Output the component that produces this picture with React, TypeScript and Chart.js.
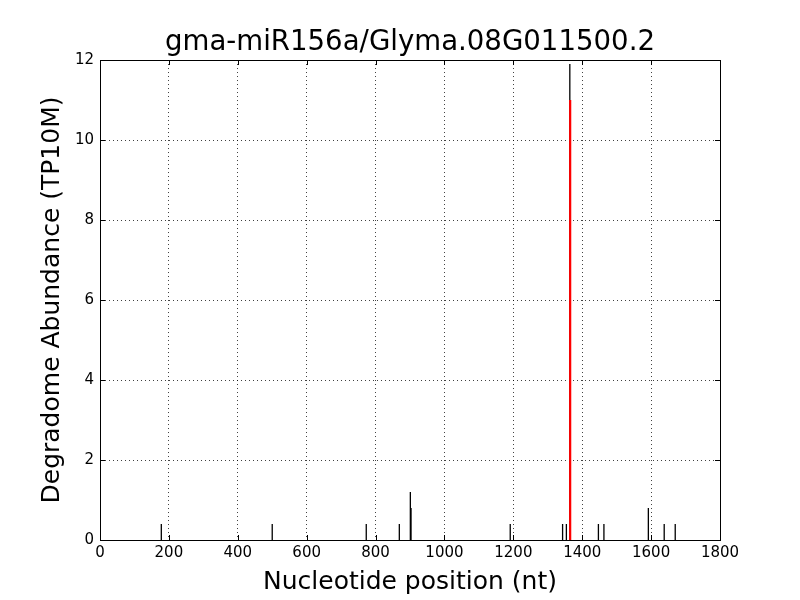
import React, { useEffect, useRef } from "react";
import { Chart, registerables } from "chart.js";

Chart.register(...registerables);

const TITLE = "gma-miR156a/Glyma.08G011500.2";
const X_LABEL = "Nucleotide position (nt)";
const Y_LABEL = "Degradome Abundance (TP10M)";

// black degradome peaks
const peakPositions = [178, 500, 773, 869, 901, 903, 1191, 1343, 1354, 1364, 1447, 1463, 1592, 1638, 1670];
const peakValues = [0.4, 0.4, 0.4, 0.4, 1.2, 0.8, 0.4, 0.4, 0.4, 11.9, 0.4, 0.4, 0.8, 0.4, 0.4];

// red target-site peak
const targetPositions = [1365];
const targetValues = [11.0];

const X_MIN = 0;
const X_MAX = 1800;
const X_STEP = 200;
const Y_MIN = 0;
const Y_MAX = 12;
const Y_STEP = 2;

const FONT = "'DejaVu Sans', sans-serif";

function stems(xs: number[], ys: number[]) {
  const out: { x: number; y: number | null }[] = [];
  xs.forEach((x, i) => {
    out.push({ x, y: 0 });
    out.push({ x, y: ys[i] });
    out.push({ x, y: null });
  });
  return out;
}

const framePlugin = {
  id: "frame",
  afterDraw(chart: any) {
    const { ctx, chartArea } = chart;
    const { left, right, top, bottom } = chartArea;
    const xs = chart.scales.x;
    const ys = chart.scales.y;
    ctx.save();
    ctx.strokeStyle = "#000";
    ctx.lineWidth = 1;
    ctx.setLineDash([]);
    const L = 5;
    ctx.beginPath();
    for (let v = X_MIN; v <= X_MAX; v += X_STEP) {
      const px = Math.round(xs.getPixelForValue(v)) + 0.5;
      ctx.moveTo(px, bottom);
      ctx.lineTo(px, bottom - L);
      ctx.moveTo(px, top);
      ctx.lineTo(px, top + L);
    }
    for (let v = Y_MIN; v <= Y_MAX; v += Y_STEP) {
      const py = Math.round(ys.getPixelForValue(v)) + 0.5;
      ctx.moveTo(left, py);
      ctx.lineTo(left + L, py);
      ctx.moveTo(right, py);
      ctx.lineTo(right - L, py);
    }
    ctx.stroke();
    ctx.strokeRect(Math.round(left) + 0.5, Math.round(top) + 0.5, Math.round(right - left), Math.round(bottom - top));
    ctx.restore();
  },
};

export default function App() {
  const ref = useRef<HTMLCanvasElement | null>(null);

  useEffect(() => {
    if (!ref.current) return;
    const chart = new Chart(ref.current, {
      type: "line",
      data: {
        datasets: [
          {
            label: "peaks",
            data: stems(peakPositions, peakValues),
            borderColor: "#000000",
            borderWidth: 1.3,
            pointRadius: 0,
            spanGaps: false,
            order: 2,
          },
          {
            label: "target",
            data: stems(targetPositions, targetValues),
            borderColor: "#ff0000",
            borderWidth: 2.2,
            pointRadius: 0,
            spanGaps: false,
            order: 1,
          },
        ],
      },
      options: {
        animation: false,
        responsive: false,
        maintainAspectRatio: false,
        layout: { padding: { left: 0, right: 80, top: 0, bottom: 0 } },
        plugins: {
          legend: { display: false },
          tooltip: { enabled: false },
          title: {
            display: true,
            fullSize: false,
            text: TITLE,
            color: "#000",
            font: { family: FONT, size: 27.6, weight: "normal", lineHeight: 1.2 },
            padding: { top: 26, bottom: 0.9 },
          },
        },
        scales: {
          x: {
            type: "linear",
            min: X_MIN,
            max: X_MAX,
            afterFit: (s: any) => {
              s.height = 60;
            },
            ticks: {
              stepSize: X_STEP,
              color: "#000",
              padding: 4,
              maxRotation: 0,
              font: { family: FONT, size: 15 },
              callback: (v: any) => String(v),
            },
            grid: {
              color: "rgba(0,0,0,0.75)",
              lineWidth: 1,
              drawTicks: false,
            },
            border: { display: true, color: "#000", width: 1, dash: [1, 3] },
            title: {
              display: true,
              text: X_LABEL,
              color: "#000",
              font: { family: FONT, size: 25, lineHeight: 1.2 },
              padding: { top: 0, bottom: 3 },
            },
          },
          y: {
            type: "linear",
            min: Y_MIN,
            max: Y_MAX,
            afterFit: (s: any) => {
              s.width = 100;
            },
            ticks: {
              stepSize: Y_STEP,
              color: "#000",
              padding: 6,
              font: { family: FONT, size: 15 },
              callback: (v: any) => String(v),
            },
            grid: {
              color: "rgba(0,0,0,0.75)",
              lineWidth: 1,
              drawTicks: false,
            },
            border: { display: true, color: "#000", width: 1, dash: [1, 3] },
            title: {
              display: true,
              text: Y_LABEL,
              color: "#000",
              font: { family: FONT, size: 25, lineHeight: 1.2 },
              padding: { top: 37, bottom: 0 },
            },
          },
        },
      },
      plugins: [framePlugin],
    });
    return () => chart.destroy();
  }, []);

  return (
    <div style={{ position: "fixed", left: 0, top: 0, width: 800, height: 600, background: "#fff" }}>
      <canvas ref={ref} width={800} height={600} style={{ width: 800, height: 600 }} />
    </div>
  );
}
